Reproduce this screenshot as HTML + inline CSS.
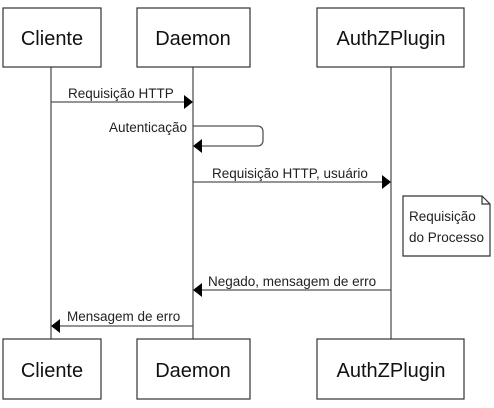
<!DOCTYPE html>
<html><head><style>body{margin:0;background:#fff}</style></head><body>
<svg width="494" height="403" xmlns="http://www.w3.org/2000/svg" font-family="Liberation Sans, sans-serif">
<g stroke="#555" stroke-width="1.3" fill="none">
<line x1="51" y1="67" x2="51" y2="339"/>
<line x1="193" y1="67" x2="193" y2="339"/>
<line x1="391" y1="67" x2="391" y2="339"/>
</g>
<g stroke="#333" stroke-width="1.2" fill="#fff">
<rect x="3" y="8" width="98" height="59"/>
<rect x="137" y="8" width="113" height="59"/>
<rect x="317" y="8" width="147" height="59"/>
<rect x="3" y="339" width="98" height="60"/>
<rect x="137" y="339" width="113" height="60"/>
<rect x="317" y="339" width="147" height="60"/>
<path d="M403 196 H482 L490 204 V256 H403 Z"/>
<path d="M482 196 V204 H490" fill="none"/>
</g>
<g font-size="20" fill="#111" text-anchor="middle">
<text x="52" y="45">Cliente</text>
<text x="193" y="45">Daemon</text>
<text x="391" y="45">AuthZPlugin</text>
<text x="52" y="377">Cliente</text>
<text x="193" y="377">Daemon</text>
<text x="391" y="377">AuthZPlugin</text>
</g>
<g stroke="#555" stroke-width="1.3" fill="none">
<line x1="51" y1="102" x2="185" y2="102"/>
<path d="M193 126 H257 Q263 126 263 132 V140 Q263 146 257 146 H201"/>
<line x1="193" y1="182" x2="383" y2="182"/>
<line x1="391" y1="290" x2="201" y2="290"/>
<line x1="193" y1="326" x2="59" y2="326"/>
</g>
<g fill="#000">
<path d="M193 102 L184 95 V109 Z"/>
<path d="M193 146 L202 139 V153 Z"/>
<path d="M391 182 L382 175 V189 Z"/>
<path d="M193 290 L202 283 V297 Z"/>
<path d="M51 326 L60 319 V333 Z"/>
</g>
<g font-size="13.5" fill="#222">
<text x="68" y="98">Requisição HTTP</text>
<text x="187" y="132" text-anchor="end">Autenticação</text>
<text x="212" y="178">Requisição HTTP, usuário</text>
<text x="409" y="221">Requisição</text>
<text x="409" y="242">do Processo</text>
<text x="208" y="286">Negado, mensagem de erro</text>
<text x="67" y="321">Mensagem de erro</text>
</g>
</svg>
</body></html>
